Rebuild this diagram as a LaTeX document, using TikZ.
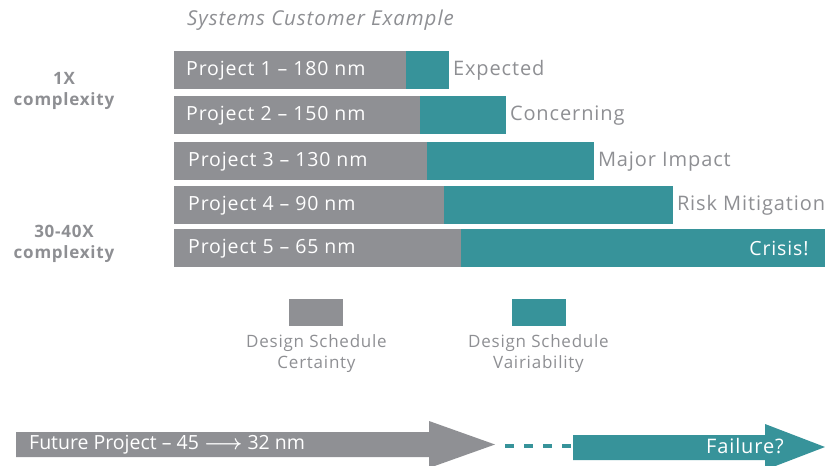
\documentclass[tikz,border=0pt]{standalone}
\usepackage{fontspec}
\setmainfont{Open Sans}
\newfontfamily\spaced[LetterSpace=4.5]{Open Sans}
\definecolor{barGray}{HTML}{8F9094}
\definecolor{barTeal}{HTML}{37939A}
\definecolor{txtGray}{HTML}{8E8F93}
\tikzset{
  graybar/.style={fill=barGray, draw=none, inner sep=0pt, minimum height=38pt, anchor=north west},
  tealbar/.style={fill=barTeal, draw=none, inner sep=0pt, minimum height=38pt, anchor=north west},
  bartext/.style={text=white, inner sep=0pt, anchor=west, font=\spaced\fontsize{19.5}{22}\selectfont},
  status/.style={text=txtGray, inner sep=0pt, anchor=west, font=\spaced\fontsize{20}{22}\selectfont},
  sidelabel/.style={text=txtGray, inner sep=0pt, align=center, font=\spaced\bfseries\fontsize{17}{21}\selectfont},
  legendbox/.style={inner sep=0pt, minimum width=54pt, minimum height=27pt, anchor=north west},
  legendtext/.style={text=txtGray, inner sep=0pt, align=center, font=\spaced\fontsize{17}{21}\selectfont},
}
\begin{document}
\begin{tikzpicture}[x=1pt,y=-1pt]
\useasboundingbox (0,0) rectangle (825,466);

% heading
\node[text=txtGray, inner sep=0pt, font=\spaced\itshape\fontsize{20.5}{22}\selectfont] (title) at (320.5,20) {Systems Customer Example};

% complexity labels
\node[sidelabel] (cx1) at (64,90.5) {1X\\complexity};
\node[sidelabel] (cx2) at (64,244) {30-40X\\complexity};

% project bars: certainty (gray) followed by variability (teal);
% each teal part overlaps its gray part by 1pt so no seam shows
\node[graybar, minimum width=232pt] (p1) at (174,51) {};
\node[tealbar, minimum width=43pt] (v1) at ([xshift=-1pt]p1.north east) {};
\node[graybar, minimum width=246pt] (p2) at (174,96) {};
\node[tealbar, minimum width=86pt] (v2) at ([xshift=-1pt]p2.north east) {};
\node[graybar, minimum width=253pt] (p3) at (174,142) {};
\node[tealbar, minimum width=167pt] (v3) at ([xshift=-1pt]p3.north east) {};
\node[graybar, minimum width=270pt] (p4) at (174,186) {};
\node[tealbar, minimum width=229pt] (v4) at ([xshift=-1pt]p4.north east) {};
\node[graybar, minimum width=287pt] (p5) at (174,229) {};
\node[tealbar, minimum width=365pt] (v5) at ([xshift=-1pt]p5.north east) {};

\node[bartext] (t1) at ([xshift=12pt]p1.west) {Project 1 – 180 nm};
\node[bartext] (t2) at ([xshift=12pt]p2.west) {Project 2 – 150 nm};
\node[bartext] (t3) at ([xshift=14pt]p3.west) {Project 3 – 130 nm};
\node[bartext] (t4) at ([xshift=14pt]p4.west) {Project 4 – 90 nm};
\node[bartext] (t5) at ([xshift=14pt]p5.west) {Project 5 – 65 nm};

\node[status] (s1) at ([xshift=4pt]v1.east) {Expected};
\node[status] (s2) at ([xshift=4pt]v2.east) {Concerning};
\node[status] (s3) at ([xshift=4pt]v3.east) {Major Impact};
\node[status] (s4) at ([xshift=4pt]v4.east) {Risk Mitigation};
\node[bartext, anchor=east] (s5) at ([xshift=-17pt]v5.east) {Crisis!};

% legend
\node[legendbox, fill=barGray] (lg1) at (289,299) {};
\node[legendbox, fill=barTeal] (lg2) at (512,299) {};
\node[legendtext] (lt1) at (316.5,353.5) {Design Schedule\\Certainty};
\node[legendtext] (lt2) at (538.5,353.5) {Design Schedule\\Vairiability};

% future project arrow
\fill[barGray] (16,432) -- (429,432) -- (429,421) -- (495,444.5) -- (429,468) -- (429,457) -- (16,457) -- cycle;
\coordinate (gtip) at (505,446);
\node[text=white, inner sep=0pt, anchor=west, font=\fontsize{19.5}{22}\selectfont] (fp) at (29,445) {Future Project – 45 {\boldmath$\longrightarrow$} 32 nm};

% failure arrow
\fill[barTeal] (573,435) -- (765,435) -- (765,424) -- (825,447) -- (765,470) -- (765,460) -- (573,460) -- cycle;
\coordinate (ttail) at (573,446);
\node[text=white, inner sep=0pt, anchor=east, font=\spaced\fontsize{20}{22}\selectfont] (fl) at (784,446) {Failure?};

% dashed link between the two arrows
\draw[barTeal, line width=4pt, dash pattern=on 9pt off 10pt] (gtip) -- (ttail);
\end{tikzpicture}
\end{document}
